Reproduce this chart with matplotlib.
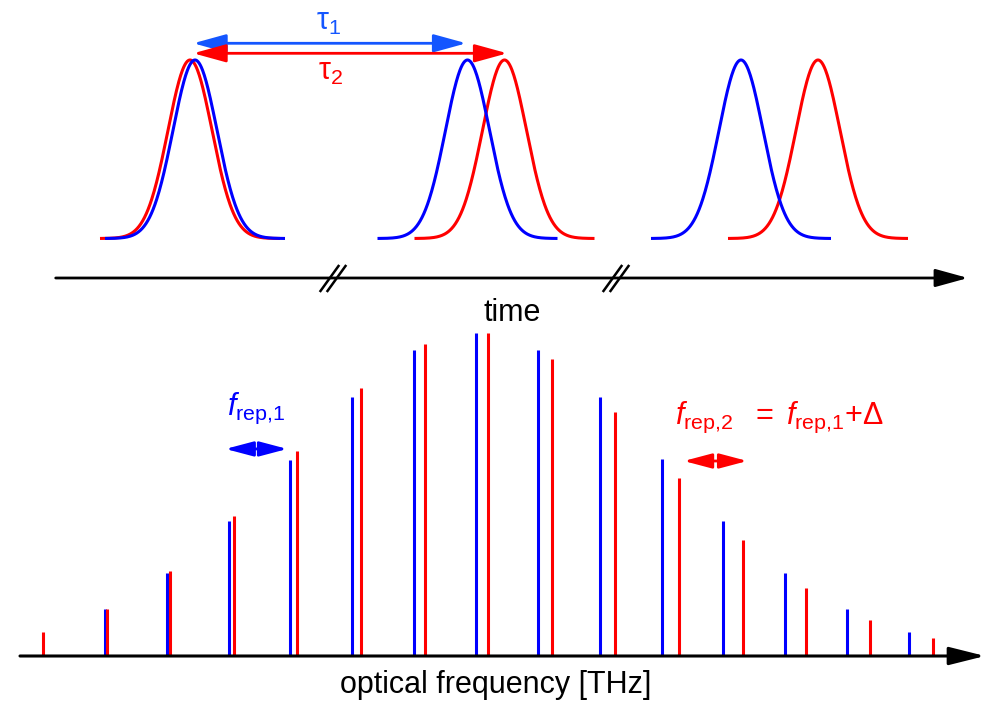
import numpy as np
import matplotlib
matplotlib.use("Agg")
import matplotlib.pyplot as plt

plt.rcParams['font.family'] = ['Liberation Sans', 'DejaVu Sans']
plt.rcParams['mathtext.fontset'] = 'custom'
plt.rcParams['mathtext.rm'] = 'Liberation Sans'
plt.rcParams['mathtext.it'] = 'Liberation Sans:italic'
plt.rcParams['mathtext.bf'] = 'Liberation Sans:bold'

BLUE = '#0000ff'
RED = '#ff0000'
ARROW_BLUE = '#1456ff'

# --- time domain (arbitrary units, 1 unit ~ 100 px) ---
blue_pulse_t = [1.95, 4.675, 7.41]
red_pulse_t = [1.90, 5.045, 8.18]
tau1 = 2.73
tau2 = 3.14
pulse_sigma = 0.22
pulse_halfspan = 0.9
tau_arrow_start = 1.933
time_breaks = [3.33, 6.16]

# --- frequency domain (units of f_rep,1) ---
frep1 = 1.0
frep2 = 1.0283
blue_modes = list(range(1, 15))
red_modes = list(range(0, 15))
blue_amp = [0.145, 0.257, 0.418, 0.607, 0.802, 0.947, 1.0,
            0.947, 0.802, 0.61, 0.418, 0.257, 0.145, 0.074]
red_amp = [0.074, 0.146, 0.263, 0.433, 0.635, 0.83, 0.966, 1.0,
           0.92, 0.755, 0.551, 0.359, 0.211, 0.111, 0.056]


def arrow(ax, x0, x1, y, color, lw, hl, hw, style='-|>'):
    ax.annotate('', xy=(x1, y), xytext=(x0, y),
                arrowprops=dict(arrowstyle=f'{style},head_length={hl},head_width={hw}',
                                color=color, lw=lw, shrinkA=0, shrinkB=0,
                                mutation_scale=1))


fig = plt.figure(figsize=(9.87, 7.05), dpi=100)

# top panel: pulse trains
ax_t = fig.add_axes([0, 1 - 320 / 705, 1, 320 / 705])
ax_t.set_xlim(0, 9.87)
ax_t.set_ylim(-0.4566, 1.3361)
ax_t.axis('off')

for centers, col in ((red_pulse_t, RED), (blue_pulse_t, BLUE)):
    for c in centers:
        t = np.linspace(c - pulse_halfspan, c + pulse_halfspan, 300)
        ax_t.plot(t, np.exp(-0.5 * ((t - c) / pulse_sigma) ** 2),
                  color=col, lw=2.2, solid_capstyle='butt')

arrow(ax_t, tau_arrow_start, tau_arrow_start + tau1, 1.0936, ARROW_BLUE, 2.0, 20, 5.5, '<|-|>')
arrow(ax_t, tau_arrow_start, tau_arrow_start + tau2, 1.0375, RED, 2.0, 20, 5.5, '<|-|>')
ax_t.text(3.29, 1.215, r'$\mathrm{\tau_1}$', color=ARROW_BLUE, fontsize=22,
          ha='center', va='center')
ax_t.text(3.31, 0.935, r'$\mathrm{\tau_2}$', color=RED, fontsize=22,
          ha='center', va='center')

# time axis with break marks
y_time = -0.2213
arrow(ax_t, 0.557, 9.68, y_time, 'black', 2.0, 20, 5.5)
for b in time_breaks:
    for off in (-0.035, 0.035):
        ax_t.plot([b + off - 0.09, b + off + 0.09], [-0.294, -0.154],
                  color='black', lw=1.8)
ax_t.text(5.12, -0.415, 'time', fontsize=22, ha='center', va='center')

# bottom panel: frequency combs
ax_f = fig.add_axes([0, 0, 1, 385 / 705])
ax_f.set_xlim(-0.6952, 15.2627)
ax_f.set_ylim(-0.1517, 1.0402)
ax_f.axis('off')

ax_f.vlines(np.array(blue_modes) * frep1, 0, blue_amp, color=BLUE, lw=2.2)
ax_f.vlines(np.array(red_modes) * frep2, 0, red_amp, color=RED, lw=2.2)

arrow(ax_f, -0.372, 15.231, 0, 'black', 2.2, 22, 5.5)

arrow(ax_f, 2.95, 2.95 + frep1, 0.641, BLUE, 2.0, 17, 4.5, '<|-|>')
arrow(ax_f, 10.36, 10.36 + frep2, 0.6037, RED, 2.0, 17, 4.5, '<|-|>')

ax_f.text(3.44, 0.765, r'$f_{\mathrm{rep{,}1}}$', color=BLUE, fontsize=22,
          ha='center', va='center')
ax_f.text(11.91, 0.74, r'$f_{\mathrm{rep{,}2}}\ \ {=}\ f_{\mathrm{rep{,}1}}{+}\Delta$',
          color=RED, fontsize=22, ha='center', va='center')
ax_f.text(7.316, -0.09, 'optical frequency [THz]', fontsize=22,
          ha='center', va='center')

fig.savefig('out.png', dpi=100)
